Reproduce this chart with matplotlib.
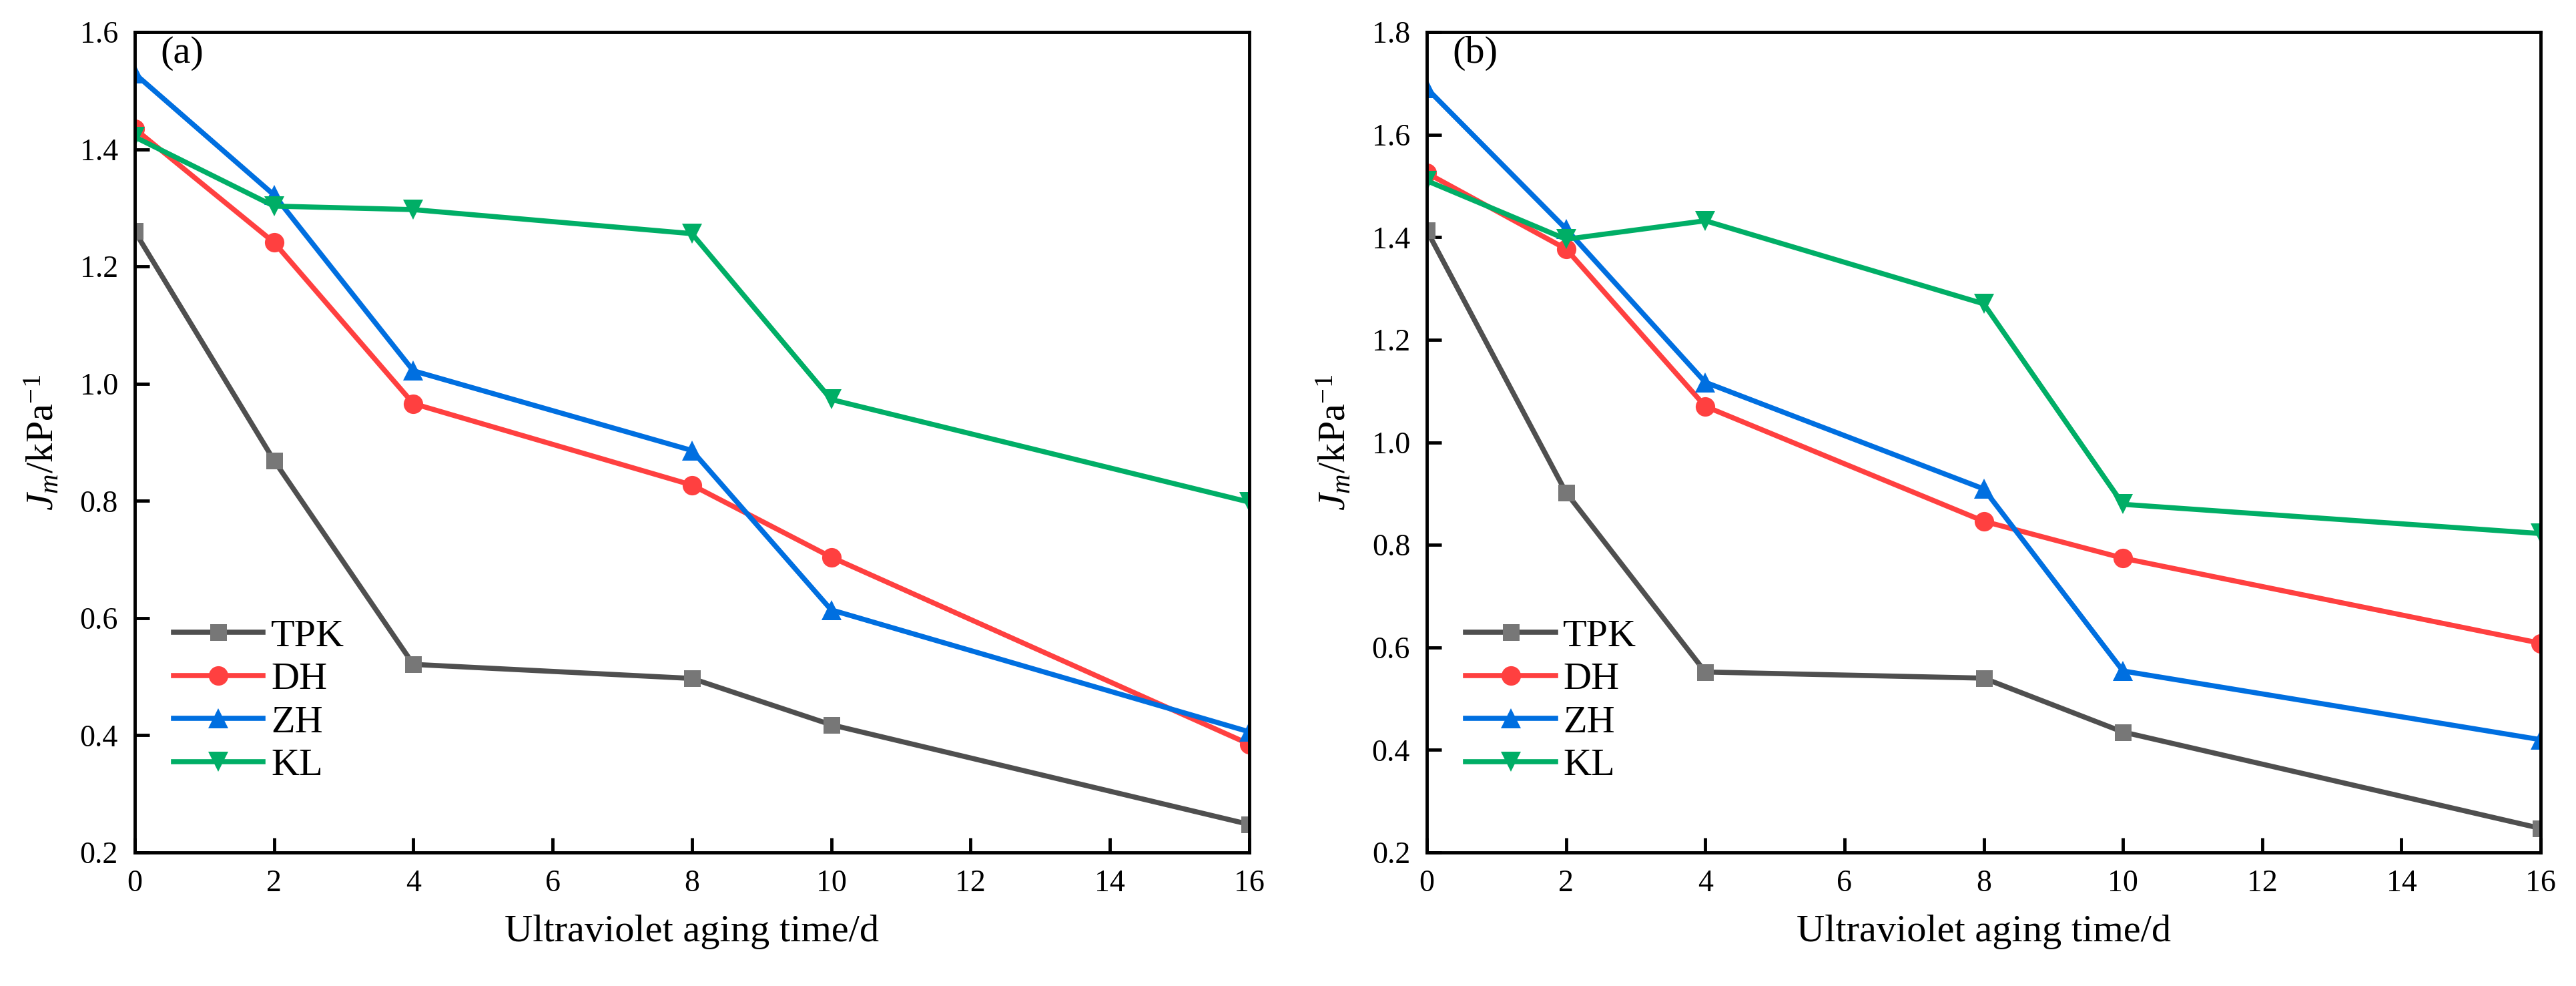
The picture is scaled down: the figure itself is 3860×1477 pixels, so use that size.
import matplotlib
matplotlib.use('Agg')
import matplotlib.pyplot as plt

plt.rcParams['font.family'] = ['Liberation Serif', 'DejaVu Serif']
plt.rcParams['mathtext.fontset'] = 'custom'
plt.rcParams['mathtext.rm'] = 'Liberation Serif'
plt.rcParams['mathtext.it'] = 'Liberation Serif:italic'

# data
days = [0, 2, 4, 8, 10, 16]
series_names = ['TPK', 'DH', 'ZH', 'KL']

tpk_a = [1.260, 0.869, 0.521, 0.497, 0.418, 0.248]
dh_a = [1.435, 1.241, 0.966, 0.827, 0.704, 0.385]
zh_a = [1.529, 1.322, 1.022, 0.886, 0.614, 0.406]
kl_a = [1.421, 1.303, 1.297, 1.256, 0.973, 0.798]

tpk_b = [1.413, 0.902, 0.552, 0.540, 0.435, 0.247]
dh_b = [1.525, 1.377, 1.070, 0.846, 0.774, 0.608]
zh_b = [1.690, 1.416, 1.117, 0.909, 0.554, 0.420]
kl_b = [1.510, 1.396, 1.432, 1.270, 0.879, 0.822]

panel_tags = ['(a)', '(b)']
ylims = [(0.2, 1.6), (0.2, 1.8)]

line_cols = ['#4f4f4f', '#ff4040', '#006fe0', '#00ae66']
mark_cols = ['#777777', '#ff4040', '#006fe0', '#00ae66']
markers = ['s', 'o', '^', 'v']
msizes = [18, 21, 22, 22]

fig = plt.figure(figsize=(38.6, 14.77), dpi=100)
ax_a = fig.add_axes([0.0523, 0.1354, 0.4326, 0.8321])
ax_b = fig.add_axes([0.5539, 0.1354, 0.4324, 0.8321])

panels = [(ax_a, [tpk_a, dh_a, zh_a, kl_a]), (ax_b, [tpk_b, dh_b, zh_b, kl_b])]

for k, (ax, data) in enumerate(panels):
    for i, vals in enumerate(data):
        ax.plot(days, vals, color=line_cols[i], lw=5.5, marker=markers[i],
                ms=msizes[i], mfc=mark_cols[i], mec=mark_cols[i], mew=0,
                label=series_names[i])
    ax.set_xlim(0, 16)
    ax.set_ylim(*ylims[k])
    ax.set_xticks(range(0, 17, 2))
    lo, hi = ylims[k]
    ticks = [round(lo + 0.2 * j, 1) for j in range(int(round((hi - lo) / 0.2)) + 1)]
    ax.set_yticks(ticks)
    ax.set_yticklabels(['%.1f' % t for t in ticks])
    ax.tick_params(direction='in', length=16, width=3.5, labelsize=33, pad=18,
                   top=False, right=False)
    for sp in ax.spines.values():
        sp.set_linewidth(3.5)
    ax.set_xlabel('Ultraviolet aging time/d', fontsize=42, labelpad=18)
    ax.set_ylabel(r'$J_m$/kPa$^{-1}$', fontsize=42, labelpad=20)
    ax.text(0.023, 0.974, panel_tags[k], transform=ax.transAxes, fontsize=42,
            ha='left', va='center')
    ax.legend(loc='upper left', bbox_to_anchor=(0.035, 0.285), frameon=False,
              fontsize=42, handlelength=2.3, handletextpad=0.2, labelspacing=0.2,
              borderpad=0, borderaxespad=0)

fig.savefig('out.png', dpi=100)
